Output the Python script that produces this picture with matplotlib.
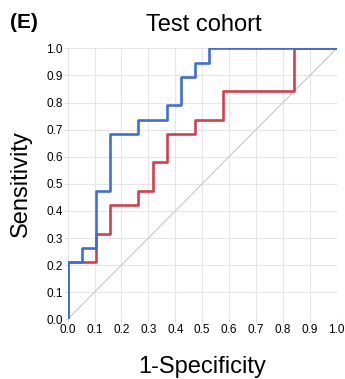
import matplotlib as mpl
mpl.use('Agg')
import matplotlib.pyplot as plt
import numpy as np

plt.rcParams['font.family'] = ['Liberation Sans', 'DejaVu Sans']

# ROC-кривые, шаг 1/19
blue_fpr = [0, 0, 1/19, 1/19, 2/19, 2/19, 3/19, 3/19, 5/19, 5/19, 7/19, 7/19,
            8/19, 8/19, 9/19, 9/19, 10/19, 10/19, 1.0]
blue_tpr = [0, 4/19, 4/19, 5/19, 5/19, 9/19, 9/19, 13/19, 13/19, 14/19, 14/19, 15/19,
            15/19, 17/19, 17/19, 18/19, 18/19, 1.0, 1.0]

red_fpr = [0, 0, 2/19, 2/19, 3/19, 3/19, 5/19, 5/19, 6/19, 6/19, 7/19, 7/19,
           9/19, 9/19, 11/19, 11/19, 16/19, 16/19, 1.0]
red_tpr = [0, 4/19, 4/19, 6/19, 6/19, 8/19, 8/19, 9/19, 9/19, 11/19, 11/19, 13/19,
           13/19, 14/19, 14/19, 16/19, 16/19, 1.0, 1.0]

ticks = np.round(np.arange(0, 1.01, 0.1), 1)

fig = plt.figure(figsize=(3.45, 3.79), dpi=100)
ax = fig.add_axes([0.196, 0.1575, 0.78, 0.715])

ax.plot([0, 1], [0, 1], color="#c8c8c8", lw=0.8, zorder=2)
ax.plot(red_fpr, red_tpr, color="#d2404e", lw=1.9, zorder=3)
ax.plot(blue_fpr, blue_tpr, color="#3f6fd6", lw=1.9, zorder=4)

ax.set_xlim(0, 1)
ax.set_ylim(0, 1)
ax.set_xticks(ticks)
ax.set_yticks(ticks)
ax.set_xticklabels([f"{t:.1f}" for t in ticks])
ax.set_yticklabels([f"{t:.1f}" for t in ticks])
ax.grid(True, color="#e6e6e6", lw=0.8, zorder=0)
ax.set_axisbelow(True)
for s in ax.spines.values():
    s.set_visible(False)
ax.tick_params(length=2, width=0.6, color="#d0d0d0", labelsize=8.5, pad=1.5)

ax.set_xlabel("1-Specificity", fontsize=17, labelpad=14)
ax.set_ylabel("Sensitivity", fontsize=17, labelpad=10)
fig.text(0.59, 0.934, "Test cohort", fontsize=17, ha="center", va="center")
fig.text(0.029, 0.94, "(E)", fontsize=15, fontweight="bold", ha="left", va="center")

fig.savefig('out.png', dpi=100)
